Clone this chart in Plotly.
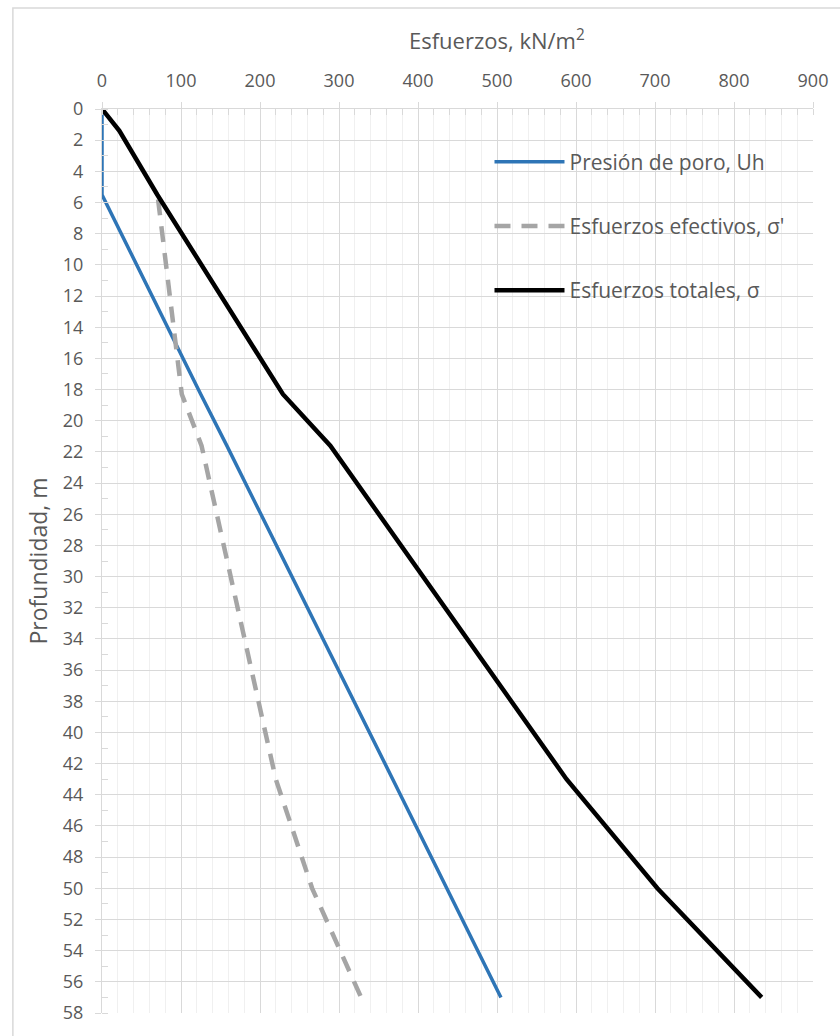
import plotly.graph_objects as go

# Data
depth_pore = [0, 5.5, 18.3, 21.6, 43, 50, 57]
pore = [0, 0, 125, 158, 368, 437, 505]

depth_eff = [5.8, 18.3, 21.6, 43, 50, 57]
effective = [71, 101, 126, 220, 266, 328]

depth_tot = [0, 1.4, 5.5, 18.3, 21.6, 43, 50, 57]
total = [0, 22, 70, 229, 289, 588, 703, 835]

names = ["Presión de poro, Uh", "Esfuerzos efectivos, σ'", "Esfuerzos totales, σ"]

FONT = "Open Sans"
TXT = "#595959"
GRID = "#d9d9d9"
MINOR = "#f0f0f0"

W, H = 840, 1036
L, T = 102, 109
PW, PH = 718, 904

fig = go.Figure()
fig.add_trace(go.Scatter(x=pore, y=depth_pore, mode="lines", name=names[0],
                         legendgroup="a",
                         line=dict(color="#2e75b6", width=3.5)))
fig.add_trace(go.Scatter(x=effective, y=depth_eff, mode="lines", name=names[1],
                         legendgroup="b",
                         line=dict(color="#a5a5a5", width=4.5, dash="16px,11px")))
fig.add_trace(go.Scatter(x=total, y=depth_tot, mode="lines", name=names[2],
                         legendgroup="c",
                         line=dict(color="#000000", width=4.5)))

fig.update_layout(
    width=W, height=H,
    margin=dict(l=L, r=W - L - PW, t=T, b=H - T - PH),
    paper_bgcolor="white", plot_bgcolor="white",
    font=dict(family=FONT, color=TXT, size=18),
    showlegend=True,
    legend=dict(x=0.545, y=0.964, xanchor="left", yanchor="top",
                bgcolor="rgba(0,0,0,0)", tracegroupgap=34,
                itemwidth=70,
                font=dict(family=FONT, size=21, color=TXT)),
    annotations=[dict(text="Esfuerzos, kN/m<sup>2</sup>", xref="paper", yref="paper",
                      x=(501 - 102) / 718, y=1 + (109 - 40) / 904,
                      xanchor="center", yanchor="middle", showarrow=False,
                      font=dict(family=FONT, size=22, color=TXT))],
    shapes=[dict(type="rect", xref="paper", yref="paper",
                 x0=(12 - 102) / 718, x1=1.1, y0=-0.1, y1=1 + (109 - 8) / 904,
                 line=dict(color=GRID, width=1.5), fillcolor="rgba(0,0,0,0)",
                 layer="below")],
)

fig.update_xaxes(
    side="top", range=[0, 900], dtick=100, tick0=0,
    showgrid=True, gridcolor=GRID, gridwidth=1.3,
    showline=True, linecolor=GRID, linewidth=1.3,
    ticks="outside", ticklen=6, tickcolor=GRID, tickwidth=1.3,
    ticklabelstandoff=8, ticklabeloverflow="allow",
    tickfont=dict(family=FONT, size=18, color=TXT),
    zeroline=False,
    minor=dict(dtick=20, showgrid=True, gridcolor=MINOR, gridwidth=1.3,
               ticks="inside", ticklen=6, tickcolor=GRID, tickwidth=1.3),
)
fig.update_yaxes(
    range=[58, 0], dtick=2, tick0=0,
    showgrid=True, gridcolor=GRID, gridwidth=1.3,
    showline=True, linecolor=GRID, linewidth=1.3,
    ticks="outside", ticklen=6, tickcolor=GRID, tickwidth=1.3,
    ticklabelstandoff=8,
    tickfont=dict(family=FONT, size=18, color=TXT),
    zeroline=False,
    title=dict(text="Profundidad, m", font=dict(family=FONT, size=23, color=TXT), standoff=8),
    minor=dict(dtick=1, showgrid=False,
               ticks="inside", ticklen=6, tickcolor=GRID, tickwidth=1.3),
)

fig.write_html("out.html", config={"displayModeBar": False},
               post_script="document.body.style.margin='0';document.body.style.overflow='hidden';")
